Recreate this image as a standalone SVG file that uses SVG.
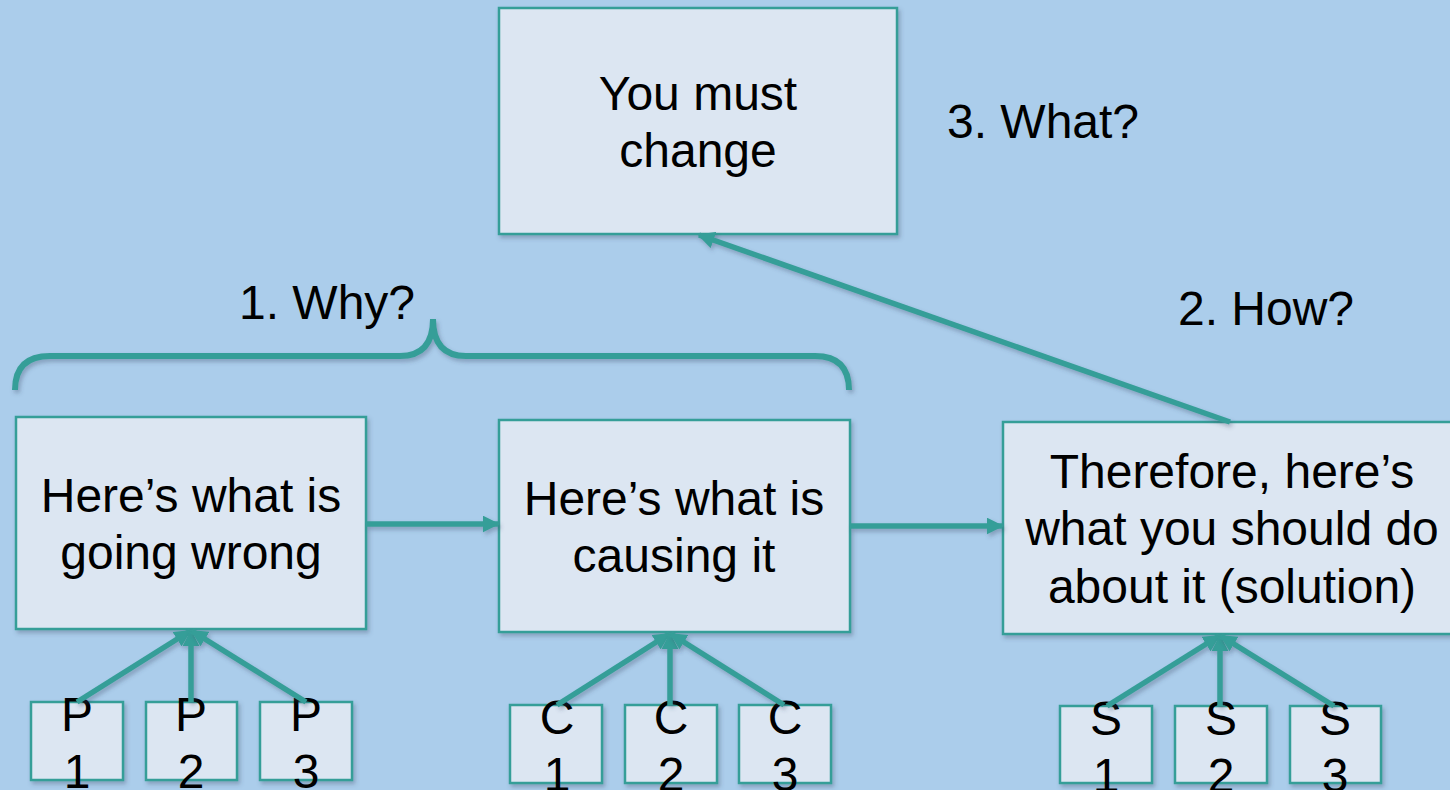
<svg xmlns="http://www.w3.org/2000/svg" width="1450" height="790" viewBox="0 0 1450 790">
  <defs>
    <filter id="shadow" filterUnits="userSpaceOnUse" x="0" y="0" width="1450" height="790">
      <feDropShadow dx="2" dy="3" stdDeviation="2" flood-color="#3a4a66" flood-opacity="0.35"/>
    </filter>
    <marker id="arrow" viewBox="0 0 10 10" refX="9" refY="5" markerWidth="17" markerHeight="17" markerUnits="userSpaceOnUse" orient="auto">
      <path d="M0,0 L10,5 L0,10 Z" fill="#369e98"/>
    </marker>
  </defs>
  <style>
    .box { fill: #dce6f2; stroke: #369e98; stroke-width: 2.5; filter: url(#shadow); }
    .lbl { font-family: "Liberation Sans", Arial, sans-serif; font-size: 48px; fill: #000; text-anchor: middle; }
    .link { fill: none; stroke: #369e98; stroke-width: 5.5; marker-end: url(#arrow); filter: url(#shadow); }
    .brace { fill: none; stroke: #369e98; stroke-width: 6; filter: url(#shadow); }
  </style>

  <rect x="0" y="0" width="1450" height="790" fill="#abcdeb"/>

  <!-- grouping brace and step labels -->
  <path class="brace" d="M15,390 Q15,356 50,356 L400,356 Q433,356 433,319 Q433,356 466,356 L815,356 Q849,356 849,390"/>
  <text class="lbl" x="327" y="319">1. Why?</text>
  <text class="lbl" x="1266" y="325">2. How?</text>
  <text class="lbl" x="1043" y="138">3. What?</text>

  <!-- main boxes -->
  <g id="change">
    <rect class="box" x="499" y="8" width="398" height="226"/>
    <text class="lbl" x="698" y="110">You must</text>
    <text class="lbl" x="698" y="167">change</text>
  </g>
  <g id="problem">
    <rect class="box" x="16" y="417" width="350" height="212"/>
    <text class="lbl" x="191" y="512">Here’s what is</text>
    <text class="lbl" x="191" y="569">going wrong</text>
  </g>
  <g id="cause">
    <rect class="box" x="499" y="420" width="351" height="212"/>
    <text class="lbl" x="674" y="515">Here’s what is</text>
    <text class="lbl" x="674" y="572">causing it</text>
  </g>
  <g id="solution">
    <rect class="box" x="1003" y="422" width="460" height="212"/>
    <text class="lbl" x="1232" y="488">Therefore, here’s</text>
    <text class="lbl" x="1232" y="545">what you should do</text>
    <text class="lbl" x="1232" y="603">about it (solution)</text>
  </g>

  <!-- small item boxes -->
  <g id="p1"><rect class="box" x="31" y="702" width="92" height="78"/><text class="lbl" x="77" y="731">P</text><text class="lbl" x="77" y="788">1</text></g>
  <g id="p2"><rect class="box" x="146" y="702" width="91" height="78"/><text class="lbl" x="191" y="731">P</text><text class="lbl" x="191" y="788">2</text></g>
  <g id="p3"><rect class="box" x="260" y="702" width="92" height="78"/><text class="lbl" x="306" y="731">P</text><text class="lbl" x="306" y="788">3</text></g>

  <g id="c1"><rect class="box" x="510" y="705" width="92" height="78"/><text class="lbl" x="557" y="734">C</text><text class="lbl" x="557" y="791">1</text></g>
  <g id="c2"><rect class="box" x="625" y="705" width="92" height="78"/><text class="lbl" x="671" y="734">C</text><text class="lbl" x="671" y="791">2</text></g>
  <g id="c3"><rect class="box" x="739" y="705" width="92" height="78"/><text class="lbl" x="785" y="734">C</text><text class="lbl" x="785" y="791">3</text></g>

  <g id="s1"><rect class="box" x="1060" y="706" width="92" height="77"/><text class="lbl" x="1106" y="735">S</text><text class="lbl" x="1106" y="792">1</text></g>
  <g id="s2"><rect class="box" x="1175" y="706" width="92" height="77"/><text class="lbl" x="1221" y="735">S</text><text class="lbl" x="1221" y="792">2</text></g>
  <g id="s3"><rect class="box" x="1290" y="706" width="91" height="77"/><text class="lbl" x="1335" y="735">S</text><text class="lbl" x="1335" y="792">3</text></g>

  <!-- connectors -->
  <g id="connectors">
    <line class="link" x1="366" y1="524" x2="498" y2="524"/>
    <line class="link" x1="850" y1="526" x2="1002" y2="526"/>
    <line class="link" x1="1230" y1="422" x2="699" y2="235"/>

    <line class="link" x1="77" y1="702" x2="190" y2="631"/>
    <line class="link" x1="191" y1="702" x2="191" y2="631"/>
    <line class="link" x1="306" y1="702" x2="192" y2="631"/>

    <line class="link" x1="557" y1="705" x2="669" y2="634"/>
    <line class="link" x1="670" y1="705" x2="670" y2="634"/>
    <line class="link" x1="784" y1="705" x2="671" y2="634"/>

    <line class="link" x1="1107" y1="706" x2="1219" y2="636"/>
    <line class="link" x1="1220" y1="706" x2="1220" y2="636"/>
    <line class="link" x1="1334" y1="706" x2="1221" y2="636"/>
  </g>
</svg>
